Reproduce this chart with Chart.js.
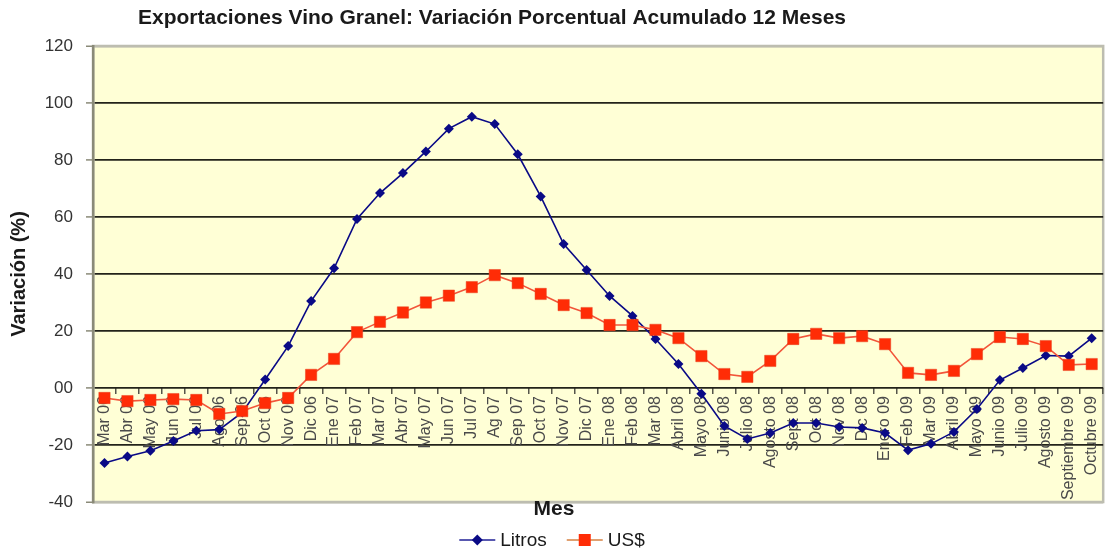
<!DOCTYPE html>
<html>
<head>
<meta charset="utf-8">
<script src="https://cdn.jsdelivr.net/npm/chart.js@4.4.1/dist/chart.umd.min.js"></script>
<style>
  html, body { margin: 0; padding: 0; background: #ffffff; }
  #wrap { width: 1113px; height: 550px; }
</style>
</head>
<body>
<div id="wrap"><canvas id="c" width="1113" height="550"></canvas></div>
<script>
const categories = [
  'Mar 06','Abr 06','May 06','Jun 06','Jul 06','Ago 06','Sep 06','Oct 06','Nov 06','Dic 06',
  'Ene 07','Feb 07','Mar 07','Abr 07','May 07','Jun 07','Jul 07','Ag 07','Sep 07','Oct 07',
  'Nov 07','Dic 07','Ene 08','Feb 08','Mar 08','Abril 08','Mayo 08','Junio 08','Julio 08','Agosto 08',
  'Sept 08','Oct 08','Nov 08','Dic 08','Enero 09','Feb 09','Mar 09','Abril 09','Mayo 09','Junio 09',
  'Julio 09','Agosto 09','Septiembre 09','Octubre 09'
];
const litros = [
  -26.3, -24.0, -22.0, -18.6, -15.0, -14.6, -8.6, 3.0, 14.7, 30.5,
  42.0, 59.3, 68.4, 75.4, 83.0, 91.0, 95.2, 92.6, 82.0, 67.2,
  50.5, 41.4, 32.3, 25.3, 17.2, 8.4, -2.0, -13.3, -17.9, -15.8,
  -12.3, -12.3, -13.7, -14.0, -15.8, -21.8, -19.6, -15.4, -7.4, 2.8,
  7.0, 11.4, 11.2, 17.5
];
const usd = [
  -3.5, -4.6, -4.2, -3.9, -4.2, -9.1, -8.1, -5.3, -3.5, 4.6,
  10.2, 19.6, 23.2, 26.5, 30.0, 32.4, 35.4, 39.6, 36.8, 33.0,
  29.1, 26.3, 22.1, 22.1, 20.4, 17.5, 11.2, 4.9, 3.9, 9.5,
  17.2, 19.0, 17.5, 18.2, 15.4, 5.3, 4.6, 6.0, 11.9, 17.9,
  17.2, 14.7, 8.1, 8.4
];
const yTickValues = [-40, -20, 0, 20, 40, 60, 80, 100, 120];
const yTickLabels = ['-40', '-20', '00', '20', '40', '60', '80', '100', '120'];
const seriesNames = ['Litros', 'US$'];
const chartTitle = 'Exportaciones Vino Granel: Variación Porcentual Acumulado 12 Meses';
const xTitle = 'Mes';
const yTitle = 'Variación (%)';

const FONT = "'Liberation Sans', Arial, Helvetica, sans-serif";
const BLUE = '#0a0a86';
const RED_LINE = '#f2553a';
const RED_FILL = '#ff2c06';

const decorPlugin = {
  id: 'decor',
  beforeDraw(chart) {
    const { ctx, chartArea: a } = chart;
    ctx.save();
    ctx.fillStyle = '#ffffd6';
    ctx.fillRect(a.left, a.top, a.right - a.left, a.bottom - a.top);
    ctx.strokeStyle = '#bdbdb0';
    ctx.lineWidth = 2.5;
    ctx.strokeRect(a.left, a.top, a.right - a.left, a.bottom - a.top);
    ctx.restore();
  },
  afterDraw(chart) {
    const { ctx } = chart;
    ctx.save();
    ctx.fillStyle = '#1a1a1a';
    ctx.font = 'bold 21px ' + FONT;
    ctx.textAlign = 'center';
    ctx.textBaseline = 'middle';
    ctx.fillText(chartTitle, 492, 18);
    ctx.font = 'bold 21px ' + FONT;
    ctx.fillText(xTitle, 554, 509);
    ctx.font = '19px ' + FONT;
    ctx.textAlign = 'left';
    const lineW = 36, gap = 5, spacing = 20;
    const w1 = ctx.measureText(seriesNames[0]).width;
    const w2 = ctx.measureText(seriesNames[1]).width;
    const total = lineW + gap + w1 + spacing + lineW + gap + w2;
    let x = 552 - total / 2;
    const y = 540;
    const items = [
      { name: seriesNames[0], line: '#5858b0', w: w1, draw: (cx) => {
          ctx.fillStyle = BLUE;
          ctx.beginPath();
          ctx.moveTo(cx, y - 5.5); ctx.lineTo(cx + 5.5, y); ctx.lineTo(cx, y + 5.5); ctx.lineTo(cx - 5.5, y);
          ctx.closePath(); ctx.fill();
      } },
      { name: seriesNames[1], line: '#e0a070', w: w2, draw: (cx) => {
          ctx.fillStyle = RED_FILL;
          ctx.fillRect(cx - 6, y - 6, 12, 12);
      } }
    ];
    items.forEach(it => {
      ctx.strokeStyle = it.line;
      ctx.lineWidth = 2;
      ctx.beginPath(); ctx.moveTo(x, y); ctx.lineTo(x + lineW, y); ctx.stroke();
      it.draw(x + lineW / 2);
      ctx.fillStyle = '#1a1a1a';
      ctx.fillText(it.name, x + lineW + gap, y + 1);
      x += lineW + gap + it.w + spacing;
    });
    ctx.restore();
  }
};

new Chart(document.getElementById('c'), {
  type: 'line',
  data: {
    labels: categories,
    datasets: [
      {
        label: seriesNames[0],
        data: litros,
        borderColor: BLUE,
        backgroundColor: BLUE,
        borderWidth: 1.6,
        pointStyle: 'rectRot',
        pointRadius: 5,
        pointBackgroundColor: BLUE,
        pointBorderColor: BLUE,
        pointBorderWidth: 0,
        tension: 0,
        order: 1
      },
      {
        label: seriesNames[1],
        data: usd,
        borderColor: RED_LINE,
        backgroundColor: RED_FILL,
        borderWidth: 1.6,
        pointStyle: 'rect',
        pointRadius: 8,
        pointBackgroundColor: RED_FILL,
        pointBorderColor: '#e8401e',
        pointBorderWidth: 0.5,
        tension: 0,
        order: 0
      }
    ]
  },
  options: {
    responsive: false,
    animation: false,
    devicePixelRatio: 1,
    layout: { padding: { left: 4, top: 46, right: 8, bottom: 48 } },
    plugins: {
      legend: { display: false },
      title: { display: false },
      tooltip: { enabled: false }
    },
    scales: {
      x: {
        type: 'category',
        position: { y: 0 },
        offset: true,
        grid: {
          drawOnChartArea: false,
          drawTicks: true,
          tickLength: 6,
          color: '#55554a',
          lineWidth: 1.5,
          offset: true
        },
        border: { display: false },
        ticks: {
          autoSkip: false,
          maxRotation: 90,
          minRotation: 90,
          padding: 2,
          color: '#4a4a4a',
          font: { family: FONT, size: 16 }
        }
      },
      y: {
        min: -40,
        max: 120,
        afterBuildTicks(scale) {
          scale.ticks = yTickValues.map(v => ({ value: v }));
        },
        afterFit(scale) { scale.width = 89; },
        grid: {
          color: (c) => (c.tick && (c.tick.value === -40 || c.tick.value === 120)) ? '#bdbdb0' : '#23231a',
          lineWidth: (c) => (c.tick && (c.tick.value === -40 || c.tick.value === 120)) ? 2.5 : 1.8,
          tickLength: 7,
          tickColor: '#8a8a78',
          tickWidth: 1.5,
          drawTicks: true
        },
        border: { display: true, color: '#8a8a78', width: 2.5 },
        ticks: {
          padding: 13,
          color: '#333333',
          font: { family: FONT, size: 17 },
          callback: (v) => {
            const i = yTickValues.indexOf(v);
            return i >= 0 ? yTickLabels[i] : '';
          }
        },
        title: {
          display: true,
          text: yTitle,
          color: '#1a1a1a',
          font: { family: FONT, size: 20, weight: 'bold' },
          padding: { top: 3, bottom: 0 }
        }
      }
    }
  },
  plugins: [decorPlugin]
});
</script>
</body>
</html>
